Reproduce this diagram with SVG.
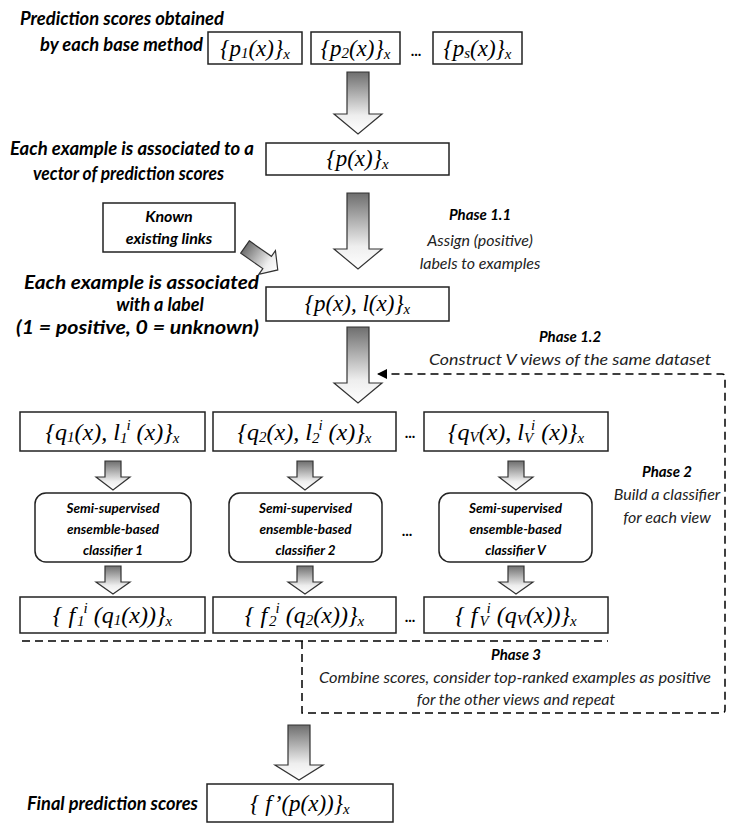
<svg xmlns="http://www.w3.org/2000/svg" width="739" height="831" viewBox="0 0 739 831">
<defs>
<linearGradient id="gv" x1="0" y1="0" x2="0" y2="1">
<stop offset="0" stop-color="#6e6e6e"/>
<stop offset="0.7" stop-color="#eeeeee"/>
<stop offset="1" stop-color="#ffffff"/>
</linearGradient>
<linearGradient id="gh" x1="0" y1="0" x2="1" y2="0">
<stop offset="0" stop-color="#6e6e6e"/>
<stop offset="0.7" stop-color="#eeeeee"/>
<stop offset="1" stop-color="#ffffff"/>
</linearGradient>
<marker id="ah" viewBox="0 0 10 10" refX="10" refY="5" markerWidth="10" markerHeight="10" markerUnits="userSpaceOnUse" orient="auto">
<path d="M0,0 L10,5 L0,10 z" fill="#000"/>
</marker>
<style>
.box{fill:#fff;stroke:#222;stroke-width:1.5}
.rbox{fill:#fff;stroke:#222;stroke-width:1.5}
.arr{fill:url(#gv);stroke:#333;stroke-width:1.2;stroke-linejoin:miter}
.lbl{font-family:Lato,"Liberation Sans",sans-serif;font-weight:bold;font-style:italic;font-size:18px;fill:#000}
.kb{font-family:Lato,"Liberation Sans",sans-serif;font-weight:bold;font-style:italic;font-size:16px;fill:#000}
.ph{font-family:Lato,"Liberation Sans",sans-serif;font-weight:bold;font-style:italic;font-size:15px;fill:#000;text-anchor:middle}
.pd{font-family:Lato,"Liberation Sans",sans-serif;font-style:italic;font-size:16px;fill:#222;text-anchor:middle}
.cl{font-family:Lato,"Liberation Sans",sans-serif;font-weight:bold;font-style:italic;font-size:13.5px;fill:#000;text-anchor:middle}
.dots{font-family:Lato,"Liberation Sans",sans-serif;font-weight:bold;font-size:15px;fill:#000;text-anchor:middle}
.m{font-family:"Liberation Serif","Times New Roman",serif;font-style:italic;font-size:23px;fill:#000;text-anchor:middle}
.m2{font-size:24px}
.s{font-size:15px}
.dash{fill:none;stroke:#000;stroke-width:1.5;stroke-dasharray:8 5}
</style>
</defs>

<!-- left labels -->
<g id="labels">
<text class="lbl" x="20" y="25" textLength="204" lengthAdjust="spacingAndGlyphs">Prediction scores obtained</text>
<text class="lbl" x="40" y="51" textLength="163" lengthAdjust="spacingAndGlyphs">by each base method</text>
<text class="lbl" x="10" y="155" textLength="244" lengthAdjust="spacingAndGlyphs">Each example is associated to a</text>
<text class="lbl" x="33" y="180" textLength="191" lengthAdjust="spacingAndGlyphs">vector of prediction scores</text>
<text class="lbl" x="24" y="289" textLength="235" lengthAdjust="spacingAndGlyphs">Each example is associated</text>
<text class="lbl" x="160" y="311" text-anchor="middle">with a label</text>
<text class="lbl" x="16" y="334" textLength="243" lengthAdjust="spacingAndGlyphs">(1 = positive, 0 = unknown)</text>
<text class="lbl" x="27" y="810" textLength="171" lengthAdjust="spacingAndGlyphs">Final prediction scores</text>
</g>

<!-- phase annotations -->
<g id="phase11">
<text class="ph" x="480" y="220">Phase 1.1</text>
<text class="pd" x="480" y="246">Assign (positive)</text>
<text class="pd" x="480" y="269">labels to examples</text>
</g>
<g id="phase12">
<text class="ph" x="570" y="342">Phase 1.2</text>
<text class="pd" x="570" y="365" textLength="282" lengthAdjust="spacingAndGlyphs">Construct V views of the same dataset</text>
</g>
<g id="phase2">
<text class="ph" x="667" y="477">Phase 2</text>
<text class="pd" x="667" y="500">Build a classifier</text>
<text class="pd" x="667" y="523">for each view</text>
</g>
<g id="phase3">
<text class="ph" x="516" y="660">Phase 3</text>
<text class="pd" x="515" y="683" textLength="392" lengthAdjust="spacingAndGlyphs">Combine scores, consider top-ranked examples as positive</text>
<text class="pd" x="516" y="705">for the other views and repeat</text>
</g>

<!-- row 1 -->
<g id="p1"><rect class="box" x="208" y="32" width="94" height="32"/>
<text class="m" x="255" y="56">{p<tspan class="s" dy="2">1</tspan><tspan dy="-2">(x)}</tspan><tspan class="s" dy="3">x</tspan></text></g>
<g id="p2"><rect class="box" x="311" y="32" width="89" height="32"/>
<text class="m" x="355.5" y="56">{p<tspan class="s" dy="2">2</tspan><tspan dy="-2">(x)}</tspan><tspan class="s" dy="3">x</tspan></text></g>
<text class="dots" x="416" y="56">...</text>
<g id="ps"><rect class="box" x="433" y="32" width="89" height="32"/>
<text class="m" x="477.5" y="56">{p<tspan class="s" dy="2">s</tspan><tspan dy="-2">(x)}</tspan><tspan class="s" dy="3">x</tspan></text></g>

<g id="px"><rect class="box" x="266" y="143" width="183" height="32"/>
<text class="m" x="357.5" y="166">{p(x)}<tspan class="s" dy="3">x</tspan></text></g>

<g id="known"><rect class="box" x="103" y="203" width="132" height="49"/>
<text class="kb" x="169" y="222" text-anchor="middle">Known</text>
<text class="kb" x="169" y="244" text-anchor="middle">existing links</text></g>

<g id="pxlx"><rect class="box" x="266" y="287" width="183" height="34"/>
<text class="m" x="357.5" y="311">{p(x), l(x)}<tspan class="s" dy="3">x</tspan></text></g>

<!-- views -->
<g id="q1"><rect class="box" x="20" y="412" width="185" height="39"/>
<text class="m m2" x="112.5" y="440">{q<tspan class="s" dy="2">1</tspan><tspan dy="-2">(x), l</tspan><tspan class="s" dy="3">1</tspan><tspan class="s" dx="-1" dy="-13">i</tspan><tspan dy="10"> (x)}</tspan><tspan class="s" dy="3">x</tspan></text></g>
<g id="q2"><rect class="box" x="213" y="412" width="183" height="39"/>
<text class="m m2" x="304.5" y="440">{q<tspan class="s" dy="2">2</tspan><tspan dy="-2">(x), l</tspan><tspan class="s" dy="3">2</tspan><tspan class="s" dx="-1" dy="-13">i</tspan><tspan dy="10"> (x)}</tspan><tspan class="s" dy="3">x</tspan></text></g>
<text class="dots" x="410" y="438">...</text>
<g id="qV"><rect class="box" x="424" y="412" width="184" height="39"/>
<text class="m m2" x="516" y="440">{q<tspan class="s" dy="2">V</tspan><tspan dy="-2">(x), l</tspan><tspan class="s" dy="3">V</tspan><tspan class="s" dx="-1" dy="-13">i</tspan><tspan dy="10"> (x)}</tspan><tspan class="s" dy="3">x</tspan></text></g>

<!-- classifiers -->
<g id="c1"><rect class="rbox" x="35" y="493" width="156" height="69" rx="11"/>
<text class="cl" x="113" y="513">Semi-supervised</text><text class="cl" x="113" y="534">ensemble-based</text><text class="cl" x="113" y="555">classifier 1</text></g>
<g id="c2"><rect class="rbox" x="229" y="493" width="153" height="69" rx="11"/>
<text class="cl" x="305.5" y="513">Semi-supervised</text><text class="cl" x="305.5" y="534">ensemble-based</text><text class="cl" x="305.5" y="555">classifier 2</text></g>
<text class="dots" x="407" y="536">...</text>
<g id="cV"><rect class="rbox" x="439" y="493" width="153" height="69" rx="11"/>
<text class="cl" x="515.5" y="513">Semi-supervised</text><text class="cl" x="515.5" y="534">ensemble-based</text><text class="cl" x="515.5" y="555">classifier V</text></g>

<!-- scores -->
<g id="f1"><rect class="box" x="20" y="597" width="185" height="36"/>
<text class="m m2" x="112.5" y="623">{ f<tspan class="s" dx="2" dy="3">1</tspan><tspan class="s" dx="-1" dy="-13">i</tspan><tspan dy="10"> (q</tspan><tspan class="s" dy="2">1</tspan><tspan dy="-2">(x))}</tspan><tspan class="s" dy="3">x</tspan></text></g>
<g id="f2"><rect class="box" x="213" y="597" width="183" height="36"/>
<text class="m m2" x="304.5" y="623">{ f<tspan class="s" dx="2" dy="3">2</tspan><tspan class="s" dx="-1" dy="-13">i</tspan><tspan dy="10"> (q</tspan><tspan class="s" dy="2">2</tspan><tspan dy="-2">(x))}</tspan><tspan class="s" dy="3">x</tspan></text></g>
<text class="dots" x="410" y="622">...</text>
<g id="fV"><rect class="box" x="424" y="597" width="184" height="36"/>
<text class="m m2" x="516" y="623">{ f<tspan class="s" dx="2" dy="3">V</tspan><tspan class="s" dx="-1" dy="-13">i</tspan><tspan dy="10"> (q</tspan><tspan class="s" dy="2">V</tspan><tspan dy="-2">(x))}</tspan><tspan class="s" dy="3">x</tspan></text></g>

<g id="final"><rect class="box" x="207" y="784" width="186" height="38"/>
<text class="m" x="300" y="811">{ f’(p(x))}<tspan class="s" dy="3">x</tspan></text></g>

<!-- connectors -->
<g id="connectors">
<polygon class="arr" points="347,72 369,72 369,114 382,114 358,134 334,114 347,114"/>
<polygon class="arr" points="347,193 369,193 369,249 382,249 358,269 334,249 347,249"/>
<polygon class="arr" points="347,327 369,327 369,383 382,383 358,403 334,383 347,383"/>
<g transform="translate(245,247) rotate(35)"><polygon points="0,-7.5 27,-7.5 27,-14.5 40,0 27,14.5 27,7.5 0,7.5" fill="url(#gh)" stroke="#333" stroke-width="1.2"/></g>
<polygon class="arr" points="105,461 121,461 121,477 130,477 113,490 96,477 105,477"/>
<polygon class="arr" points="297,461 313,461 313,477 322,477 305,490 288,477 297,477"/>
<polygon class="arr" points="508,461 524,461 524,477 533,477 516,490 499,477 508,477"/>
<polygon class="arr" points="105,566 121,566 121,582 130,582 113,594 96,582 105,582"/>
<polygon class="arr" points="297,566 313,566 313,582 322,582 305,594 288,582 297,582"/>
<polygon class="arr" points="508,566 524,566 524,582 533,582 516,594 499,582 508,582"/>
<polygon class="arr" points="288,725 310,725 310,765 323,765 299,780 275,765 288,765"/>
<line class="dash" x1="22" y1="641" x2="608" y2="641"/>
<path class="dash" d="M302,641 V713 H722 Q725,713 725,710 V377 Q725,374 722,374 H377" marker-end="url(#ah)"/>
</g>
</svg>
